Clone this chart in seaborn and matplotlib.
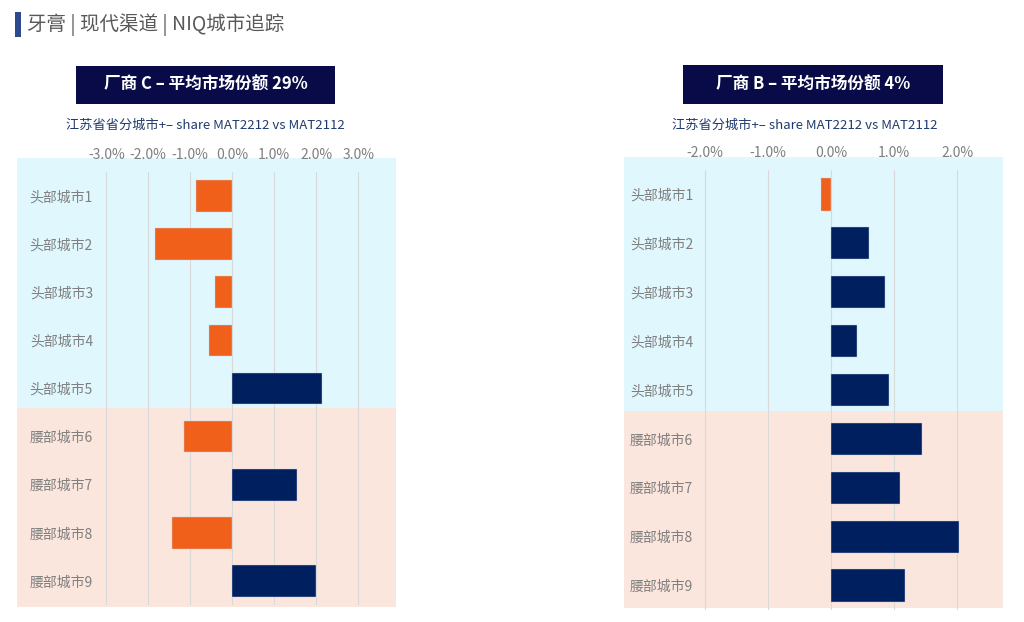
import numpy as np
import pandas as pd
import matplotlib
matplotlib.use("Agg")
import matplotlib.pyplot as plt
from matplotlib.patches import Rectangle
from matplotlib.ticker import FuncFormatter
import seaborn as sns

sns.set_theme(style="white")
plt.rcParams['font.family'] = ['Noto Sans CJK SC', 'DejaVu Sans']

# data
cities = ['头部城市1', '头部城市2', '头部城市3', '头部城市4', '头部城市5',
          '腰部城市6', '腰部城市7', '腰部城市8', '腰部城市9']
share_c = [-0.86, -1.83, -0.42, -0.55, 2.14, -1.16, 1.53, -1.43, 1.99]
share_b = [-0.16, 0.60, 0.86, 0.41, 0.92, 1.44, 1.09, 2.03, 1.17]
ticks_c = [-3, -2, -1, 0, 1, 2, 3]
ticks_b = [-2, -1, 0, 1, 2]

header = '牙膏 | 现代渠道 | NIQ城市追踪'
title_c = '厂商 C – 平均市场份额 29%'
title_b = '厂商 B – 平均市场份额 4%'
sub_c = '江苏省省分城市+– share MAT2212 vs MAT2112'
sub_b = '江苏省分城市+– share MAT2212 vs MAT2112'

ORANGE = '#f0601a'
NAVY = '#001f5e'
BOXNAVY = '#080b48'
BLUE_BG = '#e0f7fe'
PINK_BG = '#fbe6dd'
GRAY = '#7f7f7f'

W, H = 1024, 622
fig = plt.figure(figsize=(W / 100, H / 100), dpi=100)


def rect_px(x0, y0, x1, y1, color, z=-1):
    r = Rectangle((x0 / W, 1 - y1 / H), (x1 - x0) / W, (y1 - y0) / H,
                  transform=fig.transFigure, facecolor=color, edgecolor='none', zorder=z)
    fig.add_artist(r)


def axes_px(x0, y0, x1, y1):
    return fig.add_axes([x0 / W, 1 - y1 / H, (x1 - x0) / W, (y1 - y0) / H])


# header
rect_px(15, 12, 21, 37, '#2e4a8f', z=1)
fig.text(27 / W, 1 - 25 / H, header, fontsize=14, color='#595959', va='center', ha='left')


def panel(vals, ticks, title, sub, box, bg, ax_px, zero_px, px_per, label_pad, sub_x):
    # backgrounds
    bx0, by0, bmid, bx1, by1 = bg
    rect_px(bx0, by0, bx1, bmid, BLUE_BG)
    rect_px(bx0, bmid, bx1, by1, PINK_BG)
    # title box
    rect_px(box[0], box[1], box[2], box[3], BOXNAVY, z=1)
    fig.text((box[0] + box[2]) / 2 / W, 1 - (box[1] + box[3]) / 2 / H, title,
             color='white', fontsize=12, fontweight='bold', ha='center', va='center')
    fig.text(sub_x / W, 1 - 125 / H, sub, color='#1f3a6e', fontsize=9.5,
             ha='center', va='center')

    x0, y0, x1, y1 = ax_px
    ax = axes_px(x0, y0, x1, y1)
    df = pd.DataFrame({'city': cities, 'val': vals})
    df['sign'] = np.where(df['val'] < 0, 'neg', 'pos')
    sns.barplot(data=df, x='val', y='city', hue='sign', orient='h', dodge=False,
                palette={'neg': ORANGE, 'pos': NAVY}, width=0.66, legend=False,
                saturation=1, edgecolor='#c9d2e6', linewidth=0.3, ax=ax, zorder=3)
    ax.set_facecolor('none')
    ax.set_xlim((x0 - zero_px) / px_per, (x1 - zero_px) / px_per)
    ax.set_ylim(8.5, -0.5)
    ax.set_xticks(ticks)
    ax.xaxis.set_major_formatter(FuncFormatter(lambda v, p: f'{v:.1f}%'.replace('−', '-')))
    ax.xaxis.tick_top()
    ax.tick_params(axis='x', length=0, pad=7, labelsize=10, labelcolor=GRAY)
    ax.tick_params(axis='y', length=0, pad=label_pad, labelsize=10, labelcolor=GRAY)
    ax.grid(axis='x', color='#d9d9d9', linewidth=0.8)
    ax.set_axisbelow(True)
    for s in ax.spines.values():
        s.set_visible(False)
    ax.set_xlabel('')
    ax.set_ylabel('')
    return ax


panel(share_c, ticks_c, title_c, sub_c,
      box=(76, 66, 335, 104), bg=(17, 158, 408, 396, 607),
      ax_px=(104, 172, 396, 605), zero_px=232.3, px_per=42.0, label_pad=8, sub_x=205)

panel(share_b, ticks_b, title_b, sub_b,
      box=(683, 65, 943, 104), bg=(624, 157, 411, 1003, 608),
      ax_px=(700, 170, 1000, 610), zero_px=831.3, px_per=63.0, label_pad=5, sub_x=805)

fig.savefig('out.png', dpi=100, facecolor='white')
